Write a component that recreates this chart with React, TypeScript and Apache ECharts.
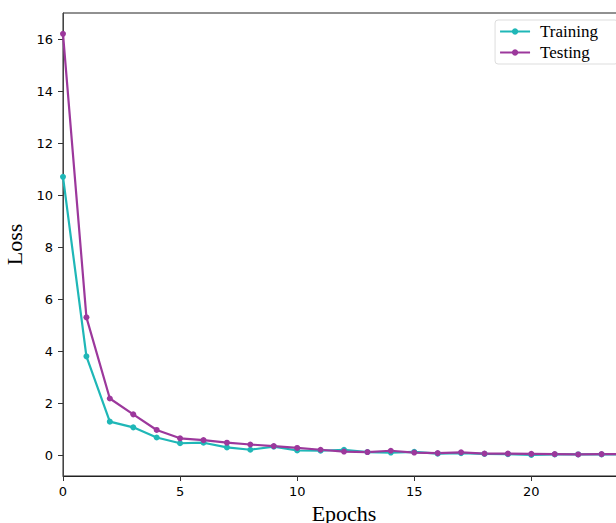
import React, { useEffect, useRef } from "react";
import * as echarts from "echarts";

const epochs = [0, 1, 2, 3, 4, 5, 6, 7, 8, 9, 10, 11, 12, 13, 14, 15, 16, 17, 18, 19, 20, 21, 22, 23, 24];
const training = [10.7, 3.8, 1.29, 1.07, 0.68, 0.46, 0.48, 0.3, 0.21, 0.33, 0.18, 0.17, 0.21, 0.12, 0.1, 0.13, 0.06, 0.08, 0.05, 0.04, 0.01, 0.03, 0.03, 0.03, 0.03];
const testing = [16.2, 5.3, 2.18, 1.57, 0.97, 0.65, 0.58, 0.48, 0.41, 0.35, 0.28, 0.21, 0.14, 0.12, 0.17, 0.1, 0.08, 0.11, 0.06, 0.06, 0.05, 0.04, 0.03, 0.04, 0.04];
const yTicks = [0, 2, 4, 6, 8, 10, 12, 14, 16];
const xTicks = [0, 5, 10, 15, 20];

export default function App() {
  const ref = useRef<HTMLDivElement>(null);
  useEffect(() => {
    if (!ref.current) return;
    const chart = echarts.init(ref.current, null, { renderer: "svg" });
    const mk = (arr: number[]) => epochs.map((e, i) => [e, arr[i]]);
    chart.setOption({
      animation: false,
      backgroundColor: "#fff",
      grid: {
        left: 63,
        top: 13,
        width: 562,
        height: 463,
        containLabel: false,
        outerBoundsMode: "none",
        show: true,
        borderColor: "#222",
        borderWidth: 1,
        backgroundColor: "transparent",
      },
      legend: {
        right: 22,
        top: 20,
        orient: "vertical",
        itemWidth: 30,
        itemHeight: 8,
        itemGap: 4,
        padding: [3, 20, 3, 4],
        borderColor: "#ddd",
        borderWidth: 1,
        borderRadius: 3,
        textStyle: { fontFamily: "Liberation Serif", fontSize: 17, color: "#000", padding: [0, 0, 0, 5] },
        data: ["Training", "Testing"],
      },
      xAxis: {
        type: "value",
        min: 0,
        max: 24,
        name: "Epochs",
        nameLocation: "middle",
        nameGap: 24,
        nameTextStyle: { fontFamily: "Liberation Serif", fontSize: 22, color: "#000" },
        axisLine: { show: true, onZero: false, lineStyle: { color: "#222", width: 1 } },
        axisTick: { show: true, length: 5, lineStyle: { color: "#333" }, customValues: xTicks },
        axisLabel: { fontFamily: "DejaVu Sans", fontSize: 13, color: "#000", margin: 9, customValues: xTicks },
        splitLine: { show: false },
      },
      yAxis: {
        type: "value",
        min: -0.8,
        max: 17,
        name: "Loss",
        nameLocation: "middle",
        nameGap: 31,
        nameTextStyle: { fontFamily: "Liberation Serif", fontSize: 22, color: "#000" },
        axisLine: { show: true, onZero: false, lineStyle: { color: "#444", width: 1 } },
        axisTick: { show: true, length: 5, lineStyle: { color: "#333" }, customValues: yTicks },
        axisLabel: { fontFamily: "DejaVu Sans", fontSize: 13, color: "#000", margin: 10, customValues: yTicks },
        splitLine: { show: false },
      },
      series: [
        {
          name: "Training",
          type: "line",
          data: mk(training),
          symbol: "circle",
          symbolSize: 6,
          color: "#1fb7b7",
          lineStyle: { width: 2.2, color: "#1fb7b7" },
          itemStyle: { color: "#1fb7b7" },
          clip: true,
        },
        {
          name: "Testing",
          type: "line",
          data: mk(testing),
          symbol: "circle",
          symbolSize: 6,
          color: "#9c389c",
          lineStyle: { width: 2.2, color: "#9c389c" },
          itemStyle: { color: "#9c389c" },
          clip: true,
        },
      ],
    });
    return () => chart.dispose();
  }, []);
  return (
    <div style={{ position: "fixed", left: 0, top: 0, width: 616, height: 523, overflow: "hidden", background: "#fff" }}>
      <div ref={ref} style={{ width: 640, height: 523 }} />
    </div>
  );
}
